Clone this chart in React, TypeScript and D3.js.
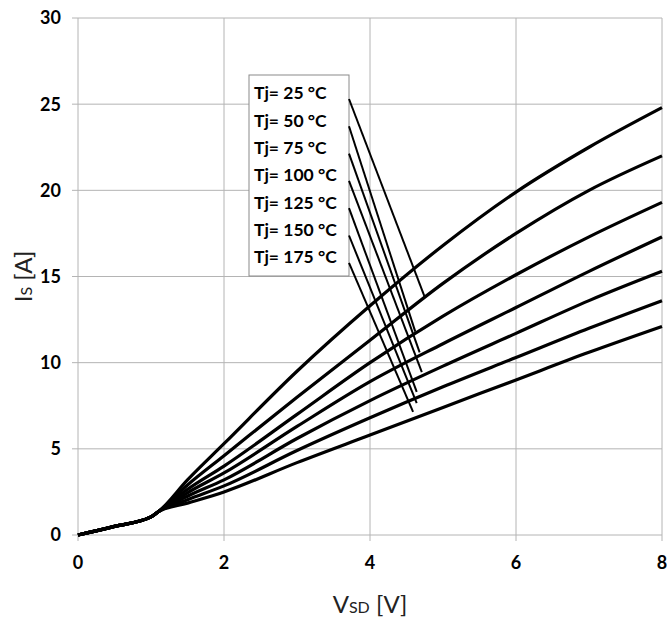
import React from "react";
import * as d3 from "d3";

// source-drain voltage samples (V) shared by every curve
const vsd = [0, 0.5, 1.0, 1.1, 1.5, 2, 3, 4, 5, 6, 7, 8];

// source current (A) per junction temperature
const is25 = [0, 0.5, 1.05, 1.35, 3.2, 5.3, 9.5, 13.3, 16.8, 19.9, 22.5, 24.8];
const is50 = [0, 0.5, 1.05, 1.35, 2.9, 4.6, 8.0, 11.3, 14.6, 17.5, 20.0, 22.0];
const is75 = [0, 0.5, 1.05, 1.35, 2.65, 4.0, 7.0, 10.0, 12.7, 15.1, 17.3, 19.3];
const is100 = [0, 0.5, 1.05, 1.35, 2.45, 3.6, 6.3, 8.9, 11.1, 13.2, 15.3, 17.3];
const is125 = [0, 0.5, 1.05, 1.35, 2.25, 3.2, 5.6, 7.8, 9.8, 11.7, 13.6, 15.3];
const is150 = [0, 0.5, 1.05, 1.35, 2.05, 2.85, 4.9, 6.8, 8.6, 10.3, 12.0, 13.6];
const is175 = [0, 0.5, 1.05, 1.35, 1.85, 2.5, 4.2, 5.8, 7.4, 9.0, 10.6, 12.1];

const legendLabels = ["Tj= 25 °C", "Tj= 50 °C", "Tj= 75 °C", "Tj= 100 °C", "Tj= 125 °C", "Tj= 150 °C", "Tj= 175 °C"];
// where each leader line from the legend ends (V, A)
const leaderEndV = [4.75, 4.62, 4.68, 4.71, 4.64, 4.64, 4.59];
const leaderEndI = [13.8, 11.8, 10.6, 9.45, 8.3, 7.65, 7.15];

const xTicks = [0, 2, 4, 6, 8];
const yTicks = [0, 5, 10, 15, 20, 25, 30];

const W = 667;
const H = 620;

export default function App() {
  const x = d3.scaleLinear().domain([0, 8]).range([78, 662]);
  const y = d3.scaleLinear().domain([0, 30]).range([535, 18]);

  const series = [is25, is50, is75, is100, is125, is150, is175];
  const line = d3
    .line<number>()
    .x((_, i) => x(vsd[i]))
    .y((d) => y(d))
    .curve(d3.curveMonotoneX);

  const grid = "#b4b4b4";
  const font = "Lato, 'Open Sans', sans-serif";
  const tickFont = { fontFamily: font, fontWeight: 700, fontSize: 18 };

  // legend box
  const lgX = 249, lgY = 75, lgW = 100, lgH = 201;
  const rowY = (i: number) => 93 + i * 27.3;

  return (
    <svg width={W} height={H} style={{ position: "absolute", left: 0, top: 0, background: "#fff" }}>
      {/* grid */}
      {yTicks.map((t) => (
        <line key={"gy" + t} x1={x(0) - 6} x2={x(8)} y1={y(t)} y2={y(t)} stroke={grid} strokeWidth={1} />
      ))}
      {xTicks.map((t) => (
        <line key={"gx" + t} x1={x(t)} x2={x(t)} y1={y(30)} y2={y(0) + 6} stroke={grid} strokeWidth={1} />
      ))}

      {/* tick labels */}
      {yTicks.map((t) => (
        <text key={"ly" + t} x={x(0) - 17} y={y(t)} dy="0.36em" textAnchor="end" {...tickFont}>
          {t}
        </text>
      ))}
      {xTicks.map((t) => (
        <text key={"lx" + t} x={x(t)} y={y(0) + 28} dy="0.36em" textAnchor="middle" {...tickFont}>
          {t}
        </text>
      ))}

      {/* curves */}
      {series.map((s, i) => (
        <path key={"s" + i} d={line(s) ?? ""} fill="none" stroke="#000" strokeWidth={3.2} strokeLinejoin="round" />
      ))}

      {/* legend */}
      <rect x={lgX} y={lgY} width={lgW} height={lgH} fill="#fff" stroke="#8a8a8a" strokeWidth={1} />
      {legendLabels.map((l, i) => (
        <text key={"lg" + i} x={lgX + 5} y={rowY(i)} dy="0.36em" fontFamily={font} fontWeight={700} fontSize={17.5}>
          {l}
        </text>
      ))}
      {legendLabels.map((_, i) => (
        <line
          key={"ld" + i}
          x1={lgX + lgW}
          y1={rowY(i) + 6}
          x2={x(leaderEndV[i])}
          y2={y(leaderEndI[i])}
          stroke="#000"
          strokeWidth={2}
        />
      ))}

      {/* axis titles */}
      <text
        transform={`translate(32, ${(y(0) + y(30)) / 2}) rotate(-90)`}
        textAnchor="middle"
        fontFamily={font}
        fontSize={24}
        fill="#222"
      >
        I<tspan fontSize={16}>S</tspan> [A]
      </text>
      <text x={(x(0) + x(8)) / 2} y={613} textAnchor="middle" fontFamily={font} fontSize={24} fill="#222">
        V<tspan fontSize={16}>SD</tspan> [V]
      </text>
    </svg>
  );
}
